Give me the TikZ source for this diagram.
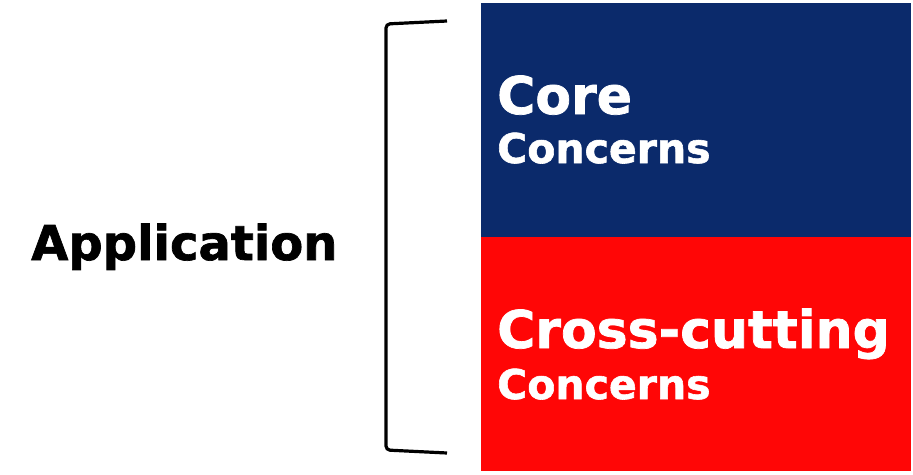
\documentclass[tikz,border=0pt]{standalone}
\usepackage{fontspec}
\setmainfont{DejaVu Sans}
\newfontfamily\heavyfont[FakeBold=1.4]{DejaVu Sans Bold}
\usetikzlibrary{positioning}
\definecolor{coreCol}{HTML}{0B2A6B}
\definecolor{crossCol}{HTML}{FF0606}

\begin{document}
\begin{tikzpicture}[x=1pt,y=-1pt,
  layer/.style={fill=#1,draw=none,minimum width=430pt,minimum height=234pt,
    anchor=north west,inner sep=0pt,outer sep=0pt},
  big/.style={font=\heavyfont\fontsize{52}{60}\selectfont,text=white,
    anchor=base west,inner sep=0pt},
  small/.style={font=\heavyfont\fontsize{41}{48}\selectfont,text=white,
    anchor=base west,inner sep=0pt},
  brace/.style={line width=3.2pt,rounded corners=4pt},
]
\useasboundingbox (0,0) rectangle (913,474);

% the two layers of the application
\node[layer=coreCol] (core) at (481,3) {};
\node[layer=crossCol] (cross) at (481,237) {};

\node[big] (coreA) at (497,114) {Core};
\node[small] (coreB) at (497,163) {Concerns};
\node[big] (crossA) at (497,348) {Cross-cutting};
\node[small] (crossB) at (497,399) {Concerns};

% bracket and its label
\coordinate (btop) at (447,21);
\coordinate (bbot) at (447,453);
\draw[brace] (btop) -- (386,24) -- (386,450) -- (bbot);
\node[font=\heavyfont\fontsize{48}{56}\selectfont,anchor=base west,inner sep=0pt]
  (app) at (31,260) {Application};

\end{tikzpicture}
\end{document}
